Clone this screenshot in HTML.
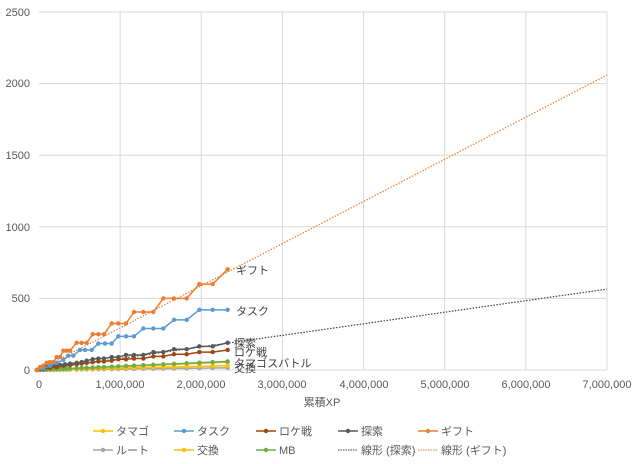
<!DOCTYPE html>
<html><head><meta charset="utf-8"><style>
body{margin:0;background:#fff;}
svg{display:block;font-family:"Liberation Sans","Noto Sans CJK JP",sans-serif;}
</style></head><body>
<svg id="s" width="640" height="464" viewBox="0 0 640 464">
<rect width="640" height="464" fill="#fff"/>
<g id="grid" stroke="#d9d9d9" stroke-width="1"></g>
<g id="series"></g>
<g font-size="11" fill="#595959" text-anchor="end">
<text x="30" y="16">2500</text><text x="30" y="87">2000</text><text x="30" y="159">1500</text>
<text x="30" y="231">1000</text><text x="30" y="302">500</text><text x="30" y="374">0</text>
</g>
<g font-size="11" fill="#595959" text-anchor="middle">
<text x="39" y="388">0</text><text x="120" y="388">1,000,000</text><text x="201" y="388">2,000,000</text>
<text x="282" y="388">3,000,000</text><text x="364" y="388">4,000,000</text><text x="445" y="388">5,000,000</text>
<text x="526" y="388">6,000,000</text><text x="607" y="388">7,000,000</text>
<text x="322" y="406">累積XP</text>
</g>
<g font-size="11" fill="#404040">
<text x="236" y="274">ギフト</text>
<text x="236" y="315">タスク</text>
<text x="234" y="347">探索</text>
<text x="234" y="356">ロケ戦</text>
<text x="234" y="367">タマゴスバトル</text>
<text x="234" y="372">交換</text>
</g>
<g id="legend" font-size="11" fill="#595959"></g>
</svg>
<script>
var ns="http://www.w3.org/2000/svg";
function el(p,t,a){var e=document.createElementNS(ns,t);for(var k in a)e.setAttribute(k,a[k]);p.appendChild(e);return e;}
var g=document.getElementById('grid');
for(var i=0;i<=5;i++){var y=12+i*71.6;el(g,'line',{x1:39,x2:607,y1:y,y2:y});}
for(var i=1;i<=7;i++){var x=39+i*81.14;el(g,'line',{x1:x,x2:x,y1:12,y2:370});}
function X(z){return z/3;} function Y(v){return 370-v*0.1432;}
var S=document.getElementById('series');
function tr(v,c){el(S,'line',{x1:39,y1:370,x2:607,y2:Y(v),stroke:c,'stroke-width':1.2,'stroke-dasharray':'1.5,1.5'});}
tr(2060,'#ED7D31');tr(565,'#404040');
function ser(pts,c){var s=pts.map(function(p){return X(p[0])+','+Y(p[1]);}).join(' ');
el(S,'polyline',{points:s,fill:'none',stroke:c,'stroke-width':1.5});
pts.forEach(function(p){el(S,'circle',{cx:X(p[0]),cy:Y(p[1]),r:2.2,fill:c});});}
var xs=[110,120,130,140,150,160,170,180,190,200,210,230,245,260,278,295,312,335,355,378,402,430,460,490,522,560,598,638,683];
function lin(end){return xs.map(function(x){return [x,end*(x-110)/573];});}
ser(lin(15),'#A5A5A5');
ser(lin(30),'#FFC000');
ser(lin(55),'#E7B800');
ser(lin(60),'#70AD47');
ser([[110,0],[130,5],[150,15],[170,20],[190,30],[210,35],[230,40],[245,45],[260,50],[278,55],[295,60],[312,60],[335,65],[355,75],[378,75],[402,80],[430,80],[460,95],[490,95],[522,110],[560,110],[598,125],[638,125],[683,140]],'#9E480E');
ser([[110,0],[120,10],[140,20],[160,30],[180,35],[195,40],[210,45],[230,50],[245,55],[260,65],[278,75],[295,80],[312,80],[335,90],[355,90],[378,105],[402,105],[430,105],[460,125],[490,125],[522,145],[560,145],[598,165],[638,165],[683,190]],'#595959');
ser([[110,0],[130,10],[150,30],[170,50],[190,70],[205,100],[220,100],[240,140],[255,140],[275,140],[295,185],[315,185],[335,185],[355,235],[378,235],[402,235],[430,290],[460,290],[490,290],[522,350],[560,350],[598,420],[638,420],[683,420]],'#5B9BD5');
ser([[110,0],[120,20],[130,30],[140,50],[150,55],[160,55],[170,90],[180,90],[190,135],[200,135],[210,135],[230,190],[245,190],[260,190],[278,250],[295,250],[312,250],[335,325],[355,325],[378,325],[402,405],[430,405],[460,405],[490,500],[522,500],[560,500],[598,600],[638,600],[683,703]],'#ED7D31');
var L=document.getElementById('legend');
var items=[[93,431,'#FFC000','タマゴ',0],[174,431,'#5B9BD5','タスク',0],[256,431,'#9E480E','ロケ戦',0],[338,431,'#595959','探索',0],[418,431,'#ED7D31','ギフト',0],
[93,450,'#A5A5A5','ルート',0],[174,450,'#FFC000','交換',0],[256,450,'#70AD47','MB',0],[338,450,'#404040','線形 (探索)',1],[418,450,'#ED7D31','線形 (ギフト)',1]];
items.forEach(function(it){
if(it[4]){el(L,'line',{x1:it[0],x2:it[0]+20,y1:it[1],y2:it[1],stroke:it[2],'stroke-width':1,'stroke-dasharray':'1.5,1'});}
else{el(L,'line',{x1:it[0],x2:it[0]+20,y1:it[1],y2:it[1],stroke:it[2],'stroke-width':1.5});el(L,'circle',{cx:it[0]+10,cy:it[1],r:2.2,fill:it[2]});}
var t=el(L,'text',{x:it[0]+23,y:it[1]+4});t.textContent=it[3];});
</script>
</body></html>
